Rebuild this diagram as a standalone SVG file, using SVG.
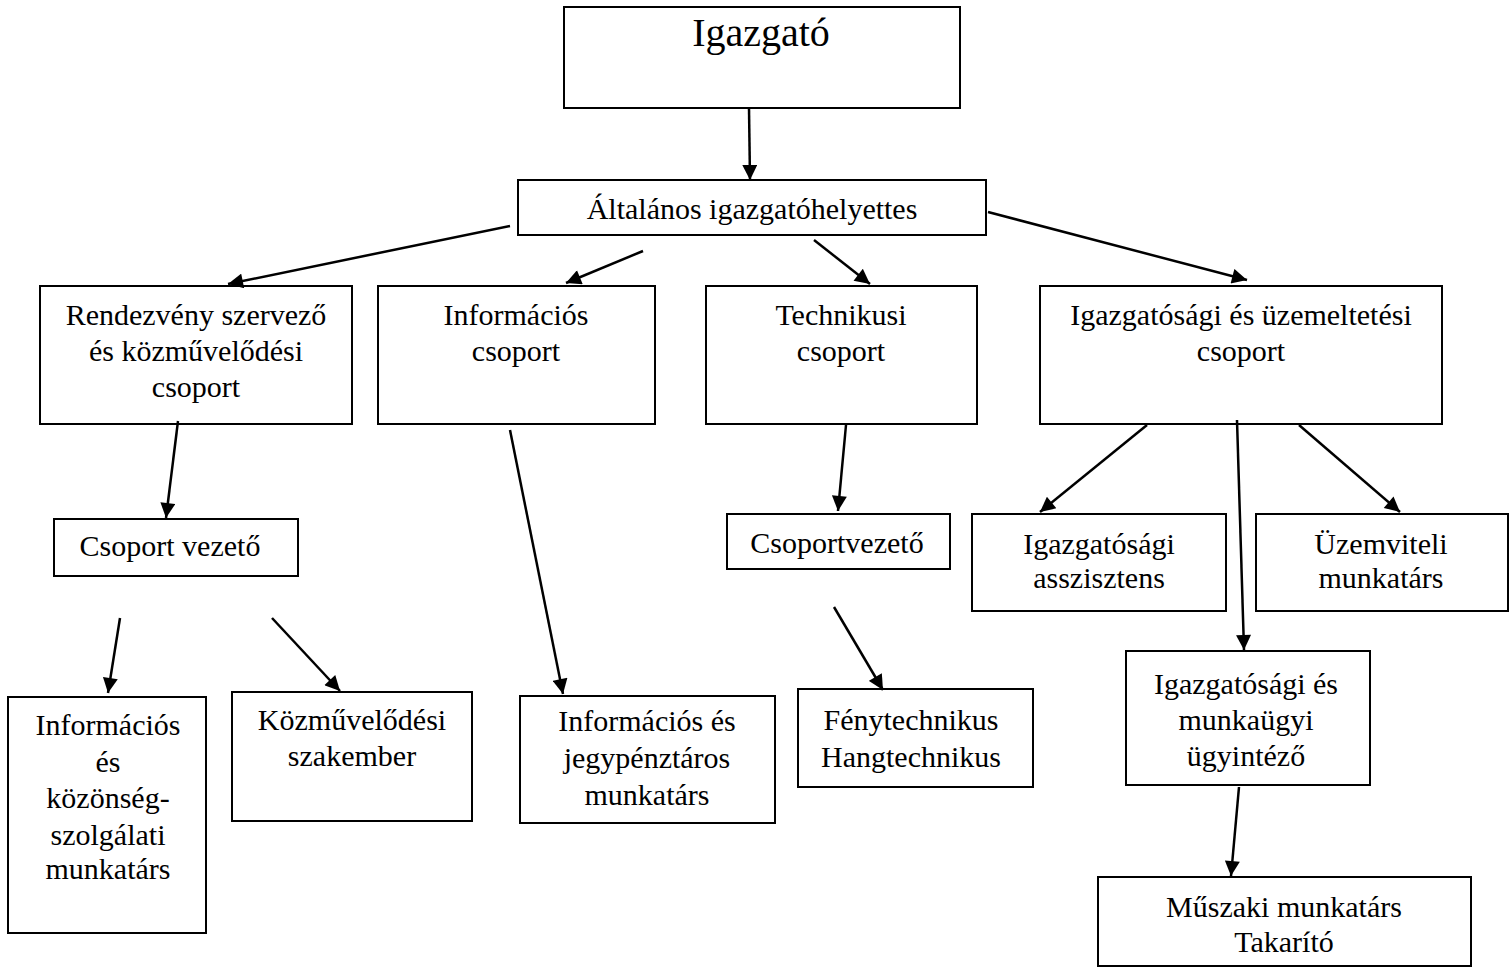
<svg xmlns="http://www.w3.org/2000/svg" width="1512" height="969" viewBox="0 0 1512 969">
<style>
.box{fill:#fff;stroke:#000;stroke-width:2}
text{font-family:"Liberation Serif","Times New Roman",serif;font-size:30px;fill:#000;text-anchor:middle}
.big{font-size:40px}
.con line{stroke:#000;stroke-width:2.5;marker-end:url(#ah)}
</style>
<defs>
<marker id="ah" viewBox="0 0 10 10" refX="10" refY="5" markerWidth="7" markerHeight="6" markerUnits="strokeWidth" orient="auto">
<path d="M0,0 L10,5 L0,10 Z" fill="#000"/>
</marker>
</defs>
<rect width="1512" height="969" fill="#fff"/>
<g id="n-igazgato"><rect class="box" x="564" y="7" width="396" height="101"/><text class="big" x="761" y="46">Igazgató</text></g>
<g id="n-altalanos"><rect class="box" x="518" y="180" width="468" height="55"/><text x="752" y="219">Általános igazgatóhelyettes</text></g>
<g id="n-rendezveny"><rect class="box" x="40" y="286" width="312" height="138"/><text x="196" y="325">Rendezvény szervező</text><text x="196" y="361">és közművelődési</text><text x="196" y="397">csoport</text></g>
<g id="n-informacios"><rect class="box" x="378" y="286" width="277" height="138"/><text x="516" y="325">Információs</text><text x="516" y="361">csoport</text></g>
<g id="n-technikusi"><rect class="box" x="706" y="286" width="271" height="138"/><text x="841" y="325">Technikusi</text><text x="841" y="361">csoport</text></g>
<g id="n-igazgatosagi-uzem"><rect class="box" x="1040" y="286" width="402" height="138"/><text x="1241" y="325">Igazgatósági és üzemeltetési</text><text x="1241" y="361">csoport</text></g>
<g id="n-csoport-vezeto"><rect class="box" x="54" y="519" width="244" height="57"/><text x="170" y="556">Csoport vezető</text></g>
<g id="n-csoportvezeto"><rect class="box" x="727" y="514" width="223" height="55"/><text x="837" y="553">Csoportvezető</text></g>
<g id="n-asszisztens"><rect class="box" x="972" y="514" width="254" height="97"/><text x="1099" y="554">Igazgatósági</text><text x="1099" y="588">asszisztens</text></g>
<g id="n-uzemviteli"><rect class="box" x="1256" y="514" width="252" height="97"/><text x="1381" y="554">Üzemviteli</text><text x="1381" y="588">munkatárs</text></g>
<g id="n-kozonseg"><rect class="box" x="8" y="697" width="198" height="236"/><text x="108" y="735">Információs</text><text x="108" y="772">és</text><text x="108" y="808">közönség-</text><text x="108" y="845">szolgálati</text><text x="108" y="879">munkatárs</text></g>
<g id="n-kozmuvelodesi"><rect class="box" x="232" y="692" width="240" height="129"/><text x="352" y="730">Közművelődési</text><text x="352" y="766">szakember</text></g>
<g id="n-jegypenztaros"><rect class="box" x="520" y="696" width="255" height="127"/><text x="647" y="731">Információs és</text><text x="647" y="768">jegypénztáros</text><text x="647" y="805">munkatárs</text></g>
<g id="n-feny"><rect class="box" x="798" y="689" width="235" height="98"/><text x="911" y="730">Fénytechnikus</text><text x="911" y="767">Hangtechnikus</text></g>
<g id="n-munkaugyi"><rect class="box" x="1126" y="651" width="244" height="134"/><text x="1246" y="694">Igazgatósági és</text><text x="1246" y="730">munkaügyi</text><text x="1246" y="766">ügyintéző</text></g>
<g id="n-muszaki"><rect class="box" x="1098" y="877" width="373" height="89"/><text x="1284" y="917">Műszaki munkatárs</text><text x="1284" y="952">Takarító</text></g>
<g class="con" id="connectors">
<line x1="749" y1="108" x2="750" y2="180"/>
<line x1="510" y1="226" x2="228" y2="284"/>
<line x1="643" y1="251" x2="566" y2="283"/>
<line x1="814" y1="240" x2="870" y2="284"/>
<line x1="988" y1="212" x2="1247" y2="280"/>
<line x1="178" y1="421" x2="166" y2="518"/>
<line x1="120" y1="618" x2="108" y2="693"/>
<line x1="272" y1="618" x2="340" y2="691"/>
<line x1="510" y1="430" x2="563" y2="694"/>
<line x1="846" y1="425" x2="838" y2="511"/>
<line x1="834" y1="607" x2="883" y2="690"/>
<line x1="1147" y1="425" x2="1040" y2="512"/>
<line x1="1299" y1="425" x2="1400" y2="512"/>
<line x1="1237" y1="420" x2="1244" y2="650"/>
<line x1="1239" y1="787" x2="1231" y2="876"/>
</g>
</svg>
